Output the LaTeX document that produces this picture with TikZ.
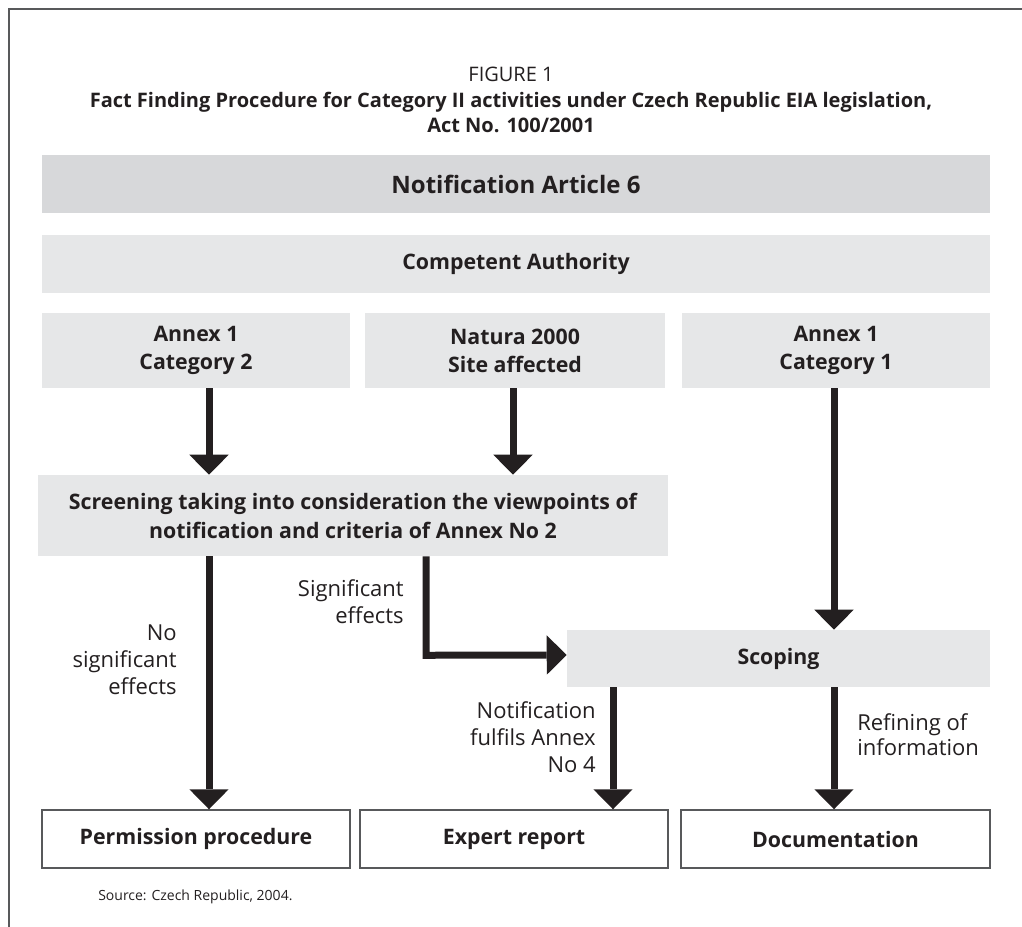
\documentclass[tikz,border=0pt]{standalone}
\usepackage{fontspec}
\setmainfont{Open Sans}
\usetikzlibrary{arrows.meta}
\definecolor{ink}{HTML}{231F20}
\definecolor{boxA}{HTML}{D7D8DA}
\definecolor{boxB}{HTML}{E6E7E8}
\definecolor{framec}{HTML}{58595B}
\begin{document}
\begin{tikzpicture}[x=0.75pt,y=-0.75pt,
  every node/.style={text=ink, inner sep=0pt},
  gbox/.style={fill=boxB, draw=none, align=center, font=\bfseries\fontsize{16}{21}\selectfont},
  wbox/.style={fill=white, draw=framec, line width=1.1pt, align=center, font=\bfseries\fontsize{16}{21}\selectfont, minimum width=231pt, minimum height=43.5pt},
  lbl/.style={align=right, anchor=east, font=\fontsize{16.5}{20.25}\selectfont},
  bigarrow/.style={draw=ink, line width=5.25pt, -{Triangle[length=15pt,width=29.5pt,line width=0pt]}},
]
\useasboundingbox (0,0) rectangle (1022,927);
% frame
\draw[framec, line width=1.5pt] (9,927) -- (9,9) -- (1022,9);
% title
\node[align=center, font=\fontsize{15}{19}\selectfont] (title) at (511,100)
  {{\mdseries FIGURE 1}\\\bfseries Fact Finding Procedure for Category II activities under Czech Republic EIA legislation,\\\bfseries Act No. 100/2001};
% boxes
\node[gbox, fill=boxA, minimum width=711pt, minimum height=43.5pt, font=\bfseries\fontsize{18}{21}\selectfont] (notif) at (516,184) {Notification Article 6};
\node[gbox, minimum width=711pt, minimum height=43.5pt] (comp) at (516,264) {Competent Authority};
\node[gbox, minimum width=231pt, minimum height=56.25pt] (ann2) at (196,350.5) {Annex 1\\Category 2};
\node[gbox, minimum width=225pt, minimum height=56.25pt] (natura) at (515,350.5) {Natura 2000\\Site affected};
\node[gbox, minimum width=231pt, minimum height=56.25pt] (ann1) at (836,350.5) {Annex 1\\Category 1};
\node[gbox, minimum width=472.5pt, minimum height=60.75pt, font=\bfseries\fontsize{16}{21.75}\selectfont] (screen) at (353,515.5) {Screening taking into consideration the viewpoints of\\notification and criteria of Annex No 2};
\node[gbox, minimum width=317.25pt, minimum height=42.75pt] (scop) at (778.5,658.5) {Scoping};
\node[wbox] (perm) at (196,839) {Permission procedure};
\node[wbox] (expert) at (514,839) {Expert report};
\node[wbox, minimum width=231.75pt] (doc) at (835.5,839) {Documentation};
% arrow positions
\coordinate (xa) at (209,0);
\coordinate (xb) at (513,0);
\coordinate (xc) at (426,0);
\coordinate (xd) at (834,0);
\coordinate (xe) at (613,0);
% arrows
\draw[bigarrow] (ann2.south -| xa) -- (screen.north -| xa);
\draw[bigarrow] (natura.south -| xb) -- (screen.north -| xb);
\draw[bigarrow] (screen.south -| xa) -- (perm.north -| xa);
\draw[bigarrow, line join=miter] (screen.south -| xc) -- ++(0,99) -- (scop.west |- 0,655);
\draw[bigarrow] (ann1.south -| xd) -- (scop.north -| xd);
\draw[bigarrow] (scop.south -| xe) -- (expert.north -| xe);
\draw[bigarrow] (scop.south -| xd) -- (doc.north -| xd);
% labels
\node[lbl] (lnosig) at (177,660) {No\\significant\\effects};
\node[lbl] (lsig) at (404,602) {Significant\\effects};
\node[lbl] (lnotif) at (596,737) {Notification\\fulfils Annex\\No 4};
\node[lbl, align=left, anchor=west, font=\fontsize{16.5}{19}\selectfont] (lref) at (857,735) {Refining of\\information};
% source
\node[anchor=west, font=\fontsize{10.5}{12}\selectfont] (src) at (98,897) {Source: Czech Republic, 2004.};
\end{tikzpicture}
\end{document}
